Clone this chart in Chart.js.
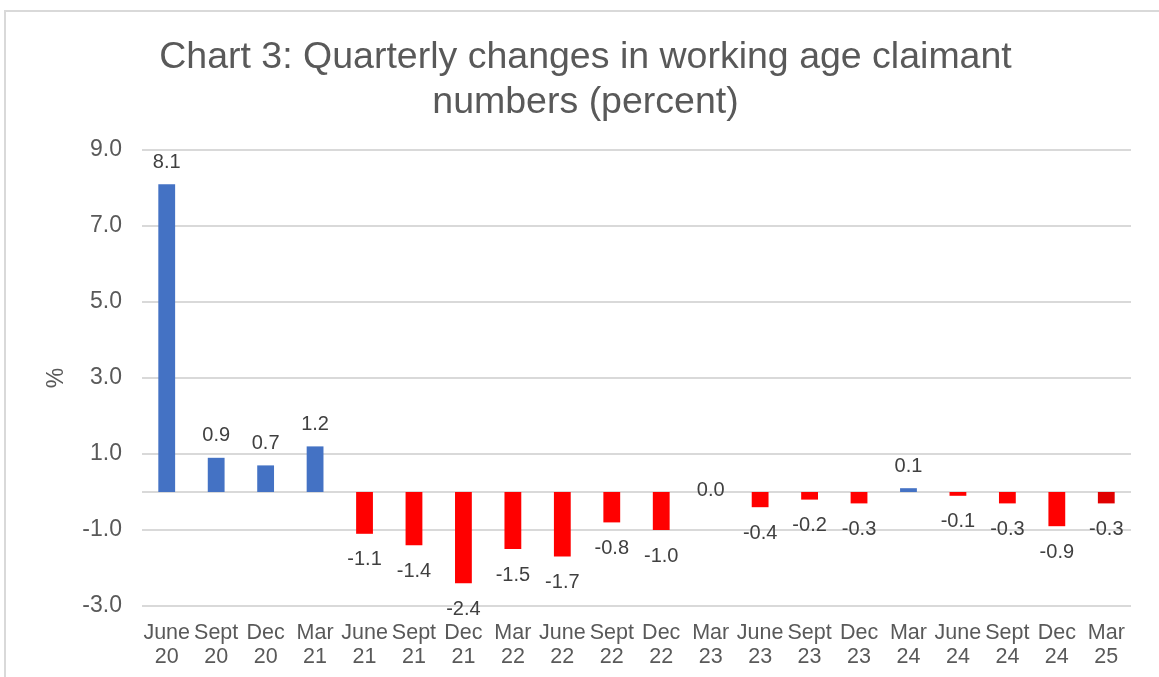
<!DOCTYPE html>
<html>
<head>
<meta charset="utf-8">
<title>Chart 3</title>
<script src="https://cdn.jsdelivr.net/npm/chart.js@4.4.1/dist/chart.umd.min.js"></script>
<style>
  body { margin: 0; background: #fff; }
  .chart-box { position: relative; width: 1159px; height: 677px; }
  .frame {
    position: absolute; left: 4px; top: 10px; width: 1180px; height: 700px;
    border: 2px solid #d9d9d9; box-sizing: border-box; pointer-events: none;
  }
</style>
</head>
<body>
<div class="chart-box">
  <canvas id="claimants"></canvas>
  <div class="frame"></div>
</div>
<script>
let quarters = ['June', 'Sept', 'Dec', 'Mar', 'June', 'Sept', 'Dec', 'Mar', 'June', 'Sept',
  'Dec', 'Mar', 'June', 'Sept', 'Dec', 'Mar', 'June', 'Sept', 'Dec', 'Mar'];
let years = ['20', '20', '20', '21', '21', '21', '21', '22', '22', '22',
  '22', '23', '23', '23', '23', '24', '24', '24', '24', '25'];
let values = [8.1, 0.9, 0.7, 1.2, -1.1, -1.4, -2.4, -1.5, -1.7, -0.8,
  -1.0, 0.0, -0.4, -0.2, -0.3, 0.1, -0.1, -0.3, -0.9, -0.3];
let titleLines = ['Chart 3: Quarterly changes in working age claimant', 'numbers (percent)'];

const fontFamily = '"Liberation Sans", Arial, sans-serif';
const grey = '#595959';

// zero line, drawn through the y scale
const zeroLine = {
  id: 'zeroLine',
  beforeDatasetsDraw(chart) {
    const ctx = chart.ctx;
    const y = chart.scales.y.getPixelForValue(0);
    ctx.save();
    ctx.strokeStyle = '#d9d9d9';
    ctx.lineWidth = 2;
    ctx.beginPath();
    ctx.moveTo(chart.chartArea.left, y);
    ctx.lineTo(chart.chartArea.right, y);
    ctx.stroke();
    ctx.restore();
  }
};

// value labels on the bars (no datalabels plugin available)
const valueLabels = {
  id: 'valueLabels',
  afterDatasetsDraw(chart) {
    const ctx = chart.ctx;
    const meta = chart.getDatasetMeta(0);
    ctx.save();
    ctx.font = '20px ' + fontFamily;
    ctx.fillStyle = '#404040';
    ctx.textAlign = 'center';
    ctx.textBaseline = 'middle';
    meta.data.forEach((bar, i) => {
      const v = values[i];
      let y;
      if (v > 0) {
        y = bar.y - 22;
      } else if (v < 0) {
        y = bar.y + 26;
      } else {
        y = bar.y - 2;
      }
      ctx.fillText(v.toFixed(1), bar.x, y);
    });
    ctx.restore();
  }
};

const labels = quarters.map((q, i) => [q, years[i]]);
const barColours = values.map((v, i) => {
  if (v > 0) return '#4472C4';
  return i === values.length - 1 ? '#E00000' : '#FF0000';
});

const data = {
  labels: labels,
  datasets: [
    {
      type: 'bar',
      data: values,
      backgroundColor: barColours,
      borderWidth: 0,
      barPercentage: 0.34,
      categoryPercentage: 1,
    },
  ],
};

const config = {
  data: data,
  options: {
    responsive: true,
    maintainAspectRatio: false,
    animation: false,
    layout: {
      padding: { left: 40, right: 28, top: 0, bottom: 0 },
    },
    plugins: {
      legend: { display: false },
      tooltip: { enabled: false },
      title: {
        display: true,
        text: titleLines,
        color: grey,
        font: { family: fontFamily, size: 37.5, weight: 'normal', lineHeight: 1.2 },
        padding: { top: 35, bottom: 25 },
      },
    },
    scales: {
      x: {
        grid: { display: false, drawTicks: false },
        border: { display: false },
        ticks: {
          color: grey,
          font: { family: fontFamily, size: 21.5, lineHeight: 1.12 },
          padding: 15,
          maxRotation: 0,
          autoSkip: false,
        },
        afterFit: (scale) => {
          scale.height = 71;
        },
      },
      y: {
        min: -3,
        max: 9,
        grid: { color: '#d9d9d9', lineWidth: 2, drawTicks: false },
        border: { display: false },
        ticks: {
          stepSize: 2,
          color: grey,
          font: { family: fontFamily, size: 23 },
          padding: 20,
          callback: (v) => v.toFixed(1),
        },
        title: {
          display: true,
          text: '%',
          color: grey,
          font: { family: fontFamily, size: 23 },
          padding: { top: 3, bottom: 0 },
        },
        afterFit: (scale) => {
          scale.width = 102;
        },
      },
    },
  },
  plugins: [zeroLine, valueLabels],
};

new Chart(document.getElementById('claimants').getContext('2d'), config);
</script>
</body>
</html>
